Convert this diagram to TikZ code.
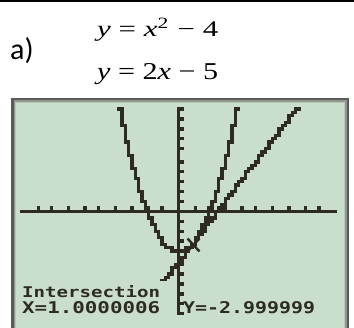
\documentclass[tikz,border=0pt]{standalone}
\usepackage{fontspec}
\usepackage{graphicx}
\setmainfont{Liberation Serif}
\newfontfamily\calfont{Carlito}
\newfontfamily\tifont{DejaVu Sans Mono}
\definecolor{lcd}{HTML}{C9DFCB}
\definecolor{ink}{HTML}{2E2B22}
\definecolor{bezel}{HTML}{5A5A5A}
\definecolor{bezelin}{HTML}{8E968E}
\definecolor{bezelhi}{HTML}{B9C9BA}
% pixel grid: column width 3.34, row height 3.3, origin (20,107.5)
\newcommand\pixat[2]{\fill[ink] ({20+(#1)*3.34},{107.5+(#2)*3.3}) rectangle ++(3.34,3.3);}
\newcommand\pixplot[1]{%
\foreach \i in {0,...,94}{%
 \pgfmathsetmacro\myX{-10+(\i-1)*20/94}%
 \pgfmathsetmacro\ra{(10-(#1))*3.1}%
 \pgfmathsetmacro\myX{-10+\i*20/94}%
 \pgfmathsetmacro\rb{(10-(#1))*3.1}%
 \pgfmathsetmacro\myX{-10+(\i+1)*20/94}%
 \pgfmathsetmacro\rc{(10-(#1))*3.1}%
 \pgfmathsetmacro\lo{round(min(\rb,(\ra+\rb)/2,(\rb+\rc)/2))}%
 \pgfmathsetmacro\hi{round(max(\rb,(\ra+\rb)/2,(\rb+\rc)/2))}%
 \fill[ink] ({20+\i*3.34},{107.5+\lo*3.3}) rectangle ({20+(\i+1)*3.34},{107.5+(\hi+1)*3.3});
}}
\tikzset{
 eqtext/.style={inner sep=0pt, anchor=base west, text=black},
 calctext/.style={inner sep=0pt, anchor=base west, text=ink}
}
\begin{document}
\begin{tikzpicture}[x=1pt,y=-1pt]
\useasboundingbox (0,0) rectangle (354,328);
% top rule
\draw[line width=2.5pt] (0,1.25) -- (354,1.25);
% label and equations
\node[eqtext] (lbl) at (10,60) {\calfont\fontsize{30}{30}\selectfont a)};
\node[eqtext] (eq1) at (97,37) {\resizebox{121pt}{18.5pt}{\textit{y} = \textit{x}\textsuperscript{2} − 4}};
\node[eqtext] (eq2) at (97,80) {\resizebox{121pt}{16pt}{\textit{y} = 2\textit{x} − 5}};
% calculator screen bezel
\fill[bezel] (11,98) rectangle (349,328);
\fill[bezelin] (13.5,100.5) rectangle (346.5,328);
\fill[bezelhi] (15,102) rectangle (345,328);
\fill[lcd] (16,103) rectangle (344,328);
% axes
\fill[ink] (20,{107.5+31*3.3}) rectangle ({20+95*3.34},{107.5+32*3.3});
\fill[ink] ({20+47*3.34},107.5) rectangle ({20+48*3.34},{107.5+63*3.3});
\foreach \k in {-9,...,-1,1,2,...,9}{
 \pgfmathsetmacro\cc{round(4.7*(\k+10))}
 \pixat{\cc}{30}
}
\foreach \k in {-10,...,-1,1,2,...,10}{
 \pgfmathsetmacro\rr{round((10-\k)*3.1)}
 \pixat{48}{\rr}
}
% graphs
\begin{scope}
\clip (20,107.5) rectangle ({20+95*3.34},280.2);
\pixplot{(\myX)*(\myX)-4}
\pixplot{2*(\myX)-5}
\end{scope}
% trace cursor
\draw[ink, line width=2.4pt] (187.5,238.5) -- (199.5,251.5);
\draw[ink, line width=2.4pt] (199.5,238.5) -- (187.5,251.5);
% screen text
\node[calctext] (t1) at (22,297.5) {\resizebox{138pt}{12pt}{\tifont\bfseries Intersection}};
\node[calctext] (t2) at (22,314) {\resizebox{138pt}{12pt}{\tifont\bfseries X=1.0000006}};
\node[calctext] (t3) at (183,314) {\resizebox{132pt}{12pt}{\tifont\bfseries Y=-2.999999}};
\end{tikzpicture}
\end{document}
